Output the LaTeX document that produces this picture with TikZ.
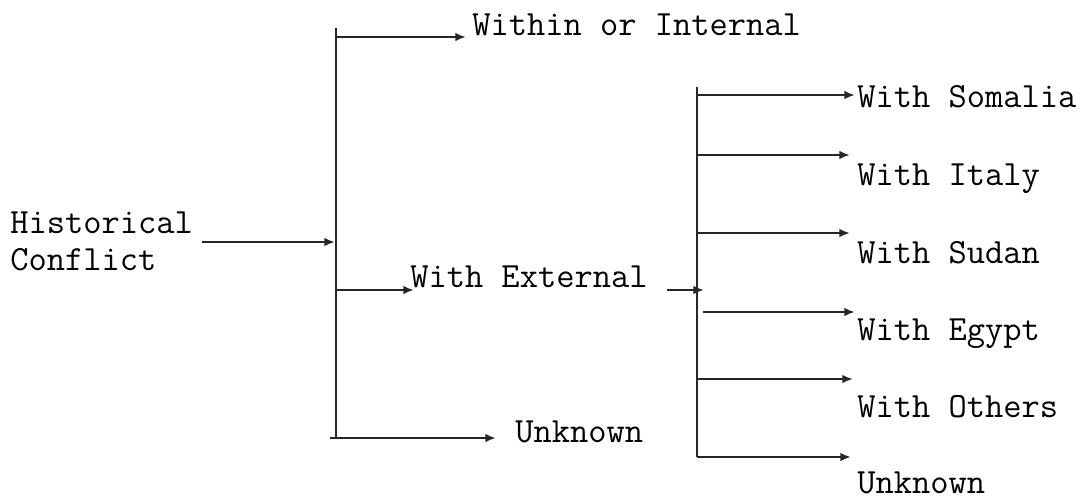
\documentclass[tikz,border=0pt]{standalone}
\usepackage{tikz}
\usetikzlibrary{arrows.meta}
\tikzset{
  hclab/.style={anchor=base west, inner sep=0pt,
                font=\ttfamily\fontsize{25.2}{26.3}\selectfont},
  hcline/.style={draw=black!85, line width=1.4pt},
  hcarrow/.style={hcline, -{Latex[length=7.5pt,width=6pt]}},
}

\begin{document}
\begin{tikzpicture}[x=0.025cm, y=-0.025cm]
  \useasboundingbox (0,0) rectangle (1091,500);

  % root and first level
  \node[hclab, anchor=west, align=left] (hist) at (10,241) {Historical\\Conflict};
  \node[hclab] (within) at (472,35) {Within or Internal};
  \node[hclab] (ext) at (410,287) {With External};
  \node[hclab] (unk) at (515,442) {Unknown};

  \coordinate (lTop) at (336,28);
  \coordinate (lBot) at (336,438);
  \coordinate (lIn) at (335,242);
  \coordinate (histOut) at (202,242);
  \draw[hcline] (lTop) -- (lBot);
  \draw[hcarrow] (histOut) -- (lIn);

  \coordinate (withinS) at (336,37);
  \coordinate (withinE) at (466,37);
  \coordinate (extS) at (336,290);
  \coordinate (extE) at (414,290);
  \coordinate (unkS) at (330,438);
  \coordinate (unkE) at (496,438);
  \draw[hcarrow] (withinS) -- (withinE);
  \draw[hcarrow] (extS) -- (extE);
  \draw[hcarrow] (unkS) -- (unkE);

  % external conflicts
  \coordinate (rTop) at (697,87);
  \coordinate (rBot) at (697,457);
  \coordinate (extOut) at (667,290);
  \coordinate (rIn) at (704,290);
  \draw[hcline] (rTop) -- (rBot);
  \draw[hcarrow] (extOut) -- (rIn);

  \foreach \nm/\ya/\xs/\xe/\yb/\txt in {som/95/697/855/107/With Somalia,
                                        ita/155/697/850/185/With Italy,
                                        sud/233/697/850/263/With Sudan,
                                        egy/312/703/855/340/With Egypt,
                                        oth/379/697/853/417/With Others,
                                        unr/457/697/851/493/Unknown} {
    \node[hclab] (\nm) at (857,\yb) {\txt};
    \coordinate (\nm S) at (\xs,\ya);
    \coordinate (\nm E) at (\xe,\ya);
    \draw[hcarrow] (\nm S) -- (\nm E);
  }
\end{tikzpicture}
\end{document}
